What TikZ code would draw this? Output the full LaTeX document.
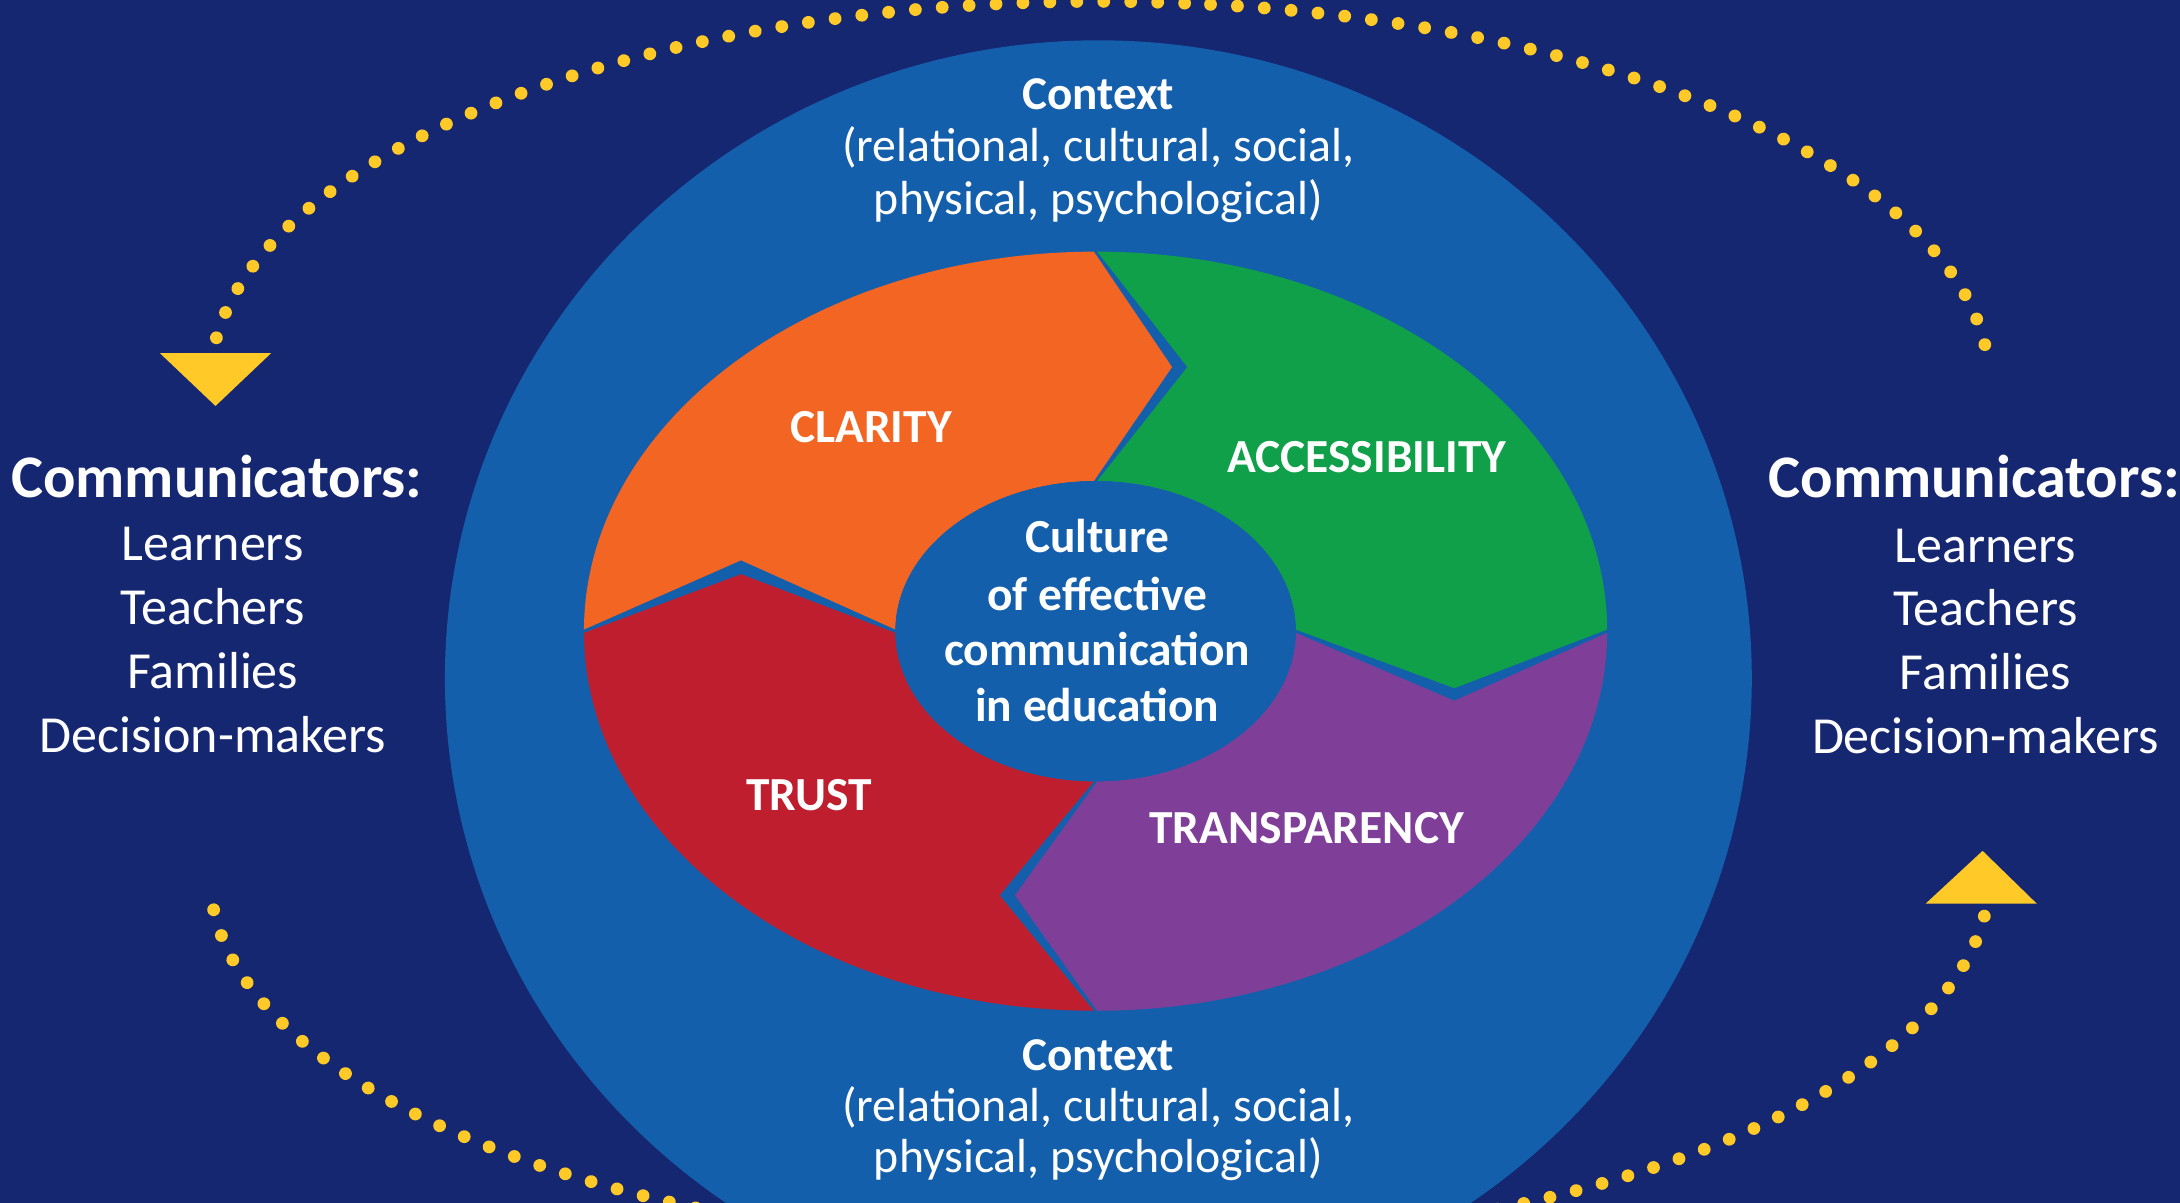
\documentclass[tikz,border=0pt]{standalone}
\usepackage{fontspec}
\setmainfont{Carlito}
\usetikzlibrary{decorations.markings}
\definecolor{navy}{RGB}{22,39,113}
\definecolor{midblue}{RGB}{20,95,172}
\definecolor{corange}{RGB}{242,101,34}
\definecolor{cgreen}{RGB}{16,160,74}
\definecolor{cpurple}{RGB}{127,63,152}
\definecolor{cred}{RGB}{190,30,45}
\definecolor{cyellow}{RGB}{255,202,40}
\begin{document}
\begin{tikzpicture}[x=0.013903cm, y=0.013903cm,
  dotarc/.style={postaction={decorate, decoration={markings,
      mark=between positions 0 and 1 step 0.01351 with {\fill[cyellow] (0,0) circle (4.6);}}}},
  arrowtri/.style={fill=cyellow},
  txt/.style={text=white, inner sep=0pt, anchor=base},
  commtitle/.style={txt, font=\fontsize{17.2}{20}\selectfont\bfseries},
  commitem/.style={txt, font=\fontsize{14.8}{18}\selectfont},
  ctxhead/.style={txt, font=\fontsize{13.4}{16}\selectfont\bfseries},
  ctxline/.style={txt, font=\fontsize{13.6}{16}\selectfont},
  seglabel/.style={txt, font=\fontsize{13.5}{16}\selectfont\bfseries},
  culture/.style={txt, font=\fontsize{13.5}{16}\selectfont\bfseries},
  ring/.style={even odd rule}
]
\useasboundingbox (0,0) rectangle (1568,865);
\clip (0,0) rectangle (1568,865);
\fill[navy] (0,0) rectangle (1568,865);
% outer context ellipse
\fill[midblue] (790,377) ellipse [x radius=470, y radius=459];

% ring segments
\def\ringpath{(788,411) ellipse [x radius=368, y radius=273] (788,411) ellipse [x radius=144, y radius=108]}
\begin{scope}
\clip (788,411) -- (644,412.2) -- (533,462) -- (420,412.2) -- (370,412.2) -- (370,730) -- (786.8,730) -- (786.8,684) -- (843,601) -- (786.8,519) -- cycle;
\fill[corange, ring] \ringpath;
\end{scope}
\begin{scope}
\clip (788,411) -- (789.2,519) -- (854,601) -- (789.2,684) -- (789.2,730) -- (1200,730) -- (1200,412.2) -- (1156,412.2) -- (1046,370) -- (932,412.2) -- cycle;
\fill[cgreen, ring] \ringpath;
\end{scope}
\begin{scope}
\clip (788,411) -- (932,409.8) -- (1046,361) -- (1156,409.8) -- (1200,409.8) -- (1200,100) -- (789.2,100) -- (789.2,138) -- (730,221) -- (789.2,303) -- cycle;
\fill[cpurple, ring] \ringpath;
\end{scope}
\begin{scope}
\clip (788,411) -- (786.8,303) -- (719,221) -- (786.8,138) -- (786.8,100) -- (370,100) -- (370,409.8) -- (420,409.8) -- (533,452) -- (644,409.8) -- cycle;
\fill[cred, ring] \ringpath;
\end{scope}
\fill[midblue] (788,411) ellipse [x radius=144, y radius=108];

% dotted arcs and arrow heads
\coordinate (topC) at (791,589);
\coordinate (botC) at (791,235);
\path[dotarc] ([shift={(173.1:640 and 275)}]topC) arc[start angle=173.1, end angle=5.76, x radius=640, y radius=275];
\path[dotarc] ([shift={(353.8:640 and 268)}]botC) arc[start angle=353.8, end angle=185.1, x radius=640, y radius=268];
\fill[arrowtri] (115,611) -- (195,611) -- (155,573) -- cycle;
\fill[arrowtri] (1385,215) -- (1465,215) -- (1426,253) -- cycle;

% context texts
\node[ctxhead] (ctxT1) at (790,786.4) {Context};
\node[ctxline] (ctxT2) at (790,748.6) {(relational, cultural, social,};
\node[ctxline] (ctxT3) at (790,711) {physical, psychological)};
\node[ctxhead] (ctxB1) at (790,95) {Context};
\node[ctxline] (ctxB2) at (790,58.5) {(relational, cultural, social,};
\node[ctxline] (ctxB3) at (790,21.5) {physical, psychological)};

% segment labels
\node[seglabel] (clarity) at (626.5,546.8) {CLARITY};
\node[seglabel] (access) at (983,525) {ACCESSIBILITY};
\node[seglabel] (trust) at (581.8,282.2) {TRUST};
\node[seglabel] (transp) at (939.8,258.3) {TRANSPARENCY};

% centre
\node[culture] (cul1) at (789.2,467.7) {Culture};
\node[culture] (cul2) at (789.2,426) {of effective};
\node[culture] (cul3) at (789.2,386.6) {communication};
\node[culture] (cul4) at (789.2,346.3) {in education};

% communicators left
\node[commtitle] (cLt) at (156,507.5) {Communicators:};
\node[commitem] (cL1) at (153,462) {Learners};
\node[commitem] (cL2) at (153,416) {Teachers};
\node[commitem] (cL3) at (153,370) {Families};
\node[commitem] (cL4) at (153,323.5) {Decision-makers};
% communicators right
\node[commtitle] (cRt) at (1420,507) {Communicators:};
\node[commitem] (cR1) at (1428,460.5) {Learners};
\node[commitem] (cR2) at (1428,415) {Teachers};
\node[commitem] (cR3) at (1428,369) {Families};
\node[commitem] (cR4) at (1428,323) {Decision-makers};
\end{tikzpicture}
\end{document}
